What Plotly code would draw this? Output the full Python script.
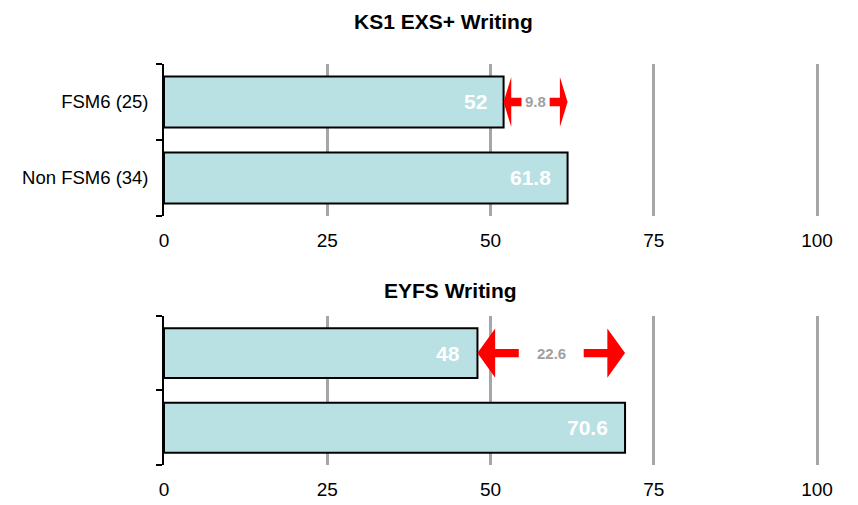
import plotly.graph_objects as go

categories = ["FSM6 (25)", "Non FSM6 (34)"]
ks1_writing = [52, 61.8]
eyfs_writing = [48, 70.6]
x_ticks = [0, 25, 50, 75, 100]

bar_fill = "#B9E0E3"
grid_col = "#A6A6A6"
font_fam = "Liberation Sans, Arial, sans-serif"
rows = list(range(len(categories)))


def arrow_traces(vals, xa, ya):
    # double arrow between the two bar ends, drawn on the FSM6 row
    a, b = vals[0], vals[1]
    d = b - a
    head = 0.12 * d
    shaft = 0.28 * d
    hh, s = 0.33, 0.055
    y = rows[0]
    left_x = [a, a + head, a + head, a + shaft, a + shaft, a + head, a + head, a]
    right_x = [b, b - head, b - head, b - shaft, b - shaft, b - head, b - head, b]
    ys = [y, y - hh, y - s, y - s, y + s, y + s, y + hh, y]
    out = []
    for xs in (left_x, right_x):
        out.append(go.Scatter(x=xs, y=ys, mode="lines", fill="toself",
                              fillcolor="#FF0000", line=dict(width=0, color="#FF0000"),
                              hoverinfo="skip", showlegend=False, xaxis=xa, yaxis=ya))
    return out, (a + b) / 2, round(d, 1)


fig = go.Figure()
annotations = []
for vals, xa, ya in [(ks1_writing, "x", "y"), (eyfs_writing, "x2", "y2")]:
    fig.add_trace(go.Bar(
        x=vals, y=rows, orientation="h", width=0.67,
        marker=dict(color=bar_fill, line=dict(color="black", width=2)),
        showlegend=False, xaxis=xa, yaxis=ya))
    # value labels inside bar ends
    for v, r in zip(vals, rows):
        annotations.append(dict(x=v, y=r, xref=xa, yref=ya, text=f"<b>{v:g}</b>",
                                xanchor="right", xshift=-15, showarrow=False,
                                font=dict(size=21, color="white", family=font_fam)))
    arrows, mid, diff = arrow_traces(vals, xa, ya)
    for t in arrows:
        fig.add_trace(t)
    annotations.append(dict(x=mid, y=rows[0], xref=xa, yref=ya, text=f"<b>{diff:g}</b>",
                            showarrow=False, font=dict(size=15, color="#A0A0A0", family=font_fam)))

annotations.append(dict(x=0.426, y=1.105, xref="paper", yref="paper", text="<b>KS1 EXS+ Writing</b>",
                        yanchor="middle", showarrow=False,
                        font=dict(size=21, color="black", family=font_fam)))
annotations.append(dict(x=0.438, y=0.436, xref="paper", yref="paper", text="<b>EYFS Writing</b>",
                        yanchor="middle", showarrow=False,
                        font=dict(size=21, color="black", family=font_fam)))

xaxis_common = dict(range=[0, 100.3], tickvals=x_ticks, showgrid=True, gridcolor=grid_col,
                    gridwidth=3, zeroline=False, showline=False, ticks="", automargin=False,
                    ticklabelstandoff=11, tickfont=dict(size=19, color="black", family=font_fam),
                    fixedrange=True)
yaxis_common = dict(range=[1.5, -0.5], tickvals=rows, showgrid=False, zeroline=False,
                    showline=True, linecolor="black", linewidth=1.5, ticks="", automargin=False,
                    minor=dict(tickvals=[-0.5, 0.5, 1.5], ticks="outside", ticklen=6,
                               tickcolor="black", tickwidth=1.5),
                    ticklabelstandoff=10, tickfont=dict(size=18.5, color="black", family=font_fam))

# page body adds 8px, so the figure is shifted by that much
fig.update_layout(
    width=850, height=497,
    margin=dict(l=156, r=39, t=56, b=40),
    plot_bgcolor="white", paper_bgcolor="white",
    barmode="overlay",
    xaxis=dict(domain=[0, 1], anchor="y", **xaxis_common),
    yaxis=dict(domain=[0.621, 1.0], anchor="x", ticktext=categories, **yaxis_common),
    xaxis2=dict(domain=[0, 1], anchor="y2", **xaxis_common),
    yaxis2=dict(domain=[0, 0.372], anchor="x2", ticktext=["", ""], **yaxis_common),
    annotations=annotations,
)

fig.write_html("out.html")
